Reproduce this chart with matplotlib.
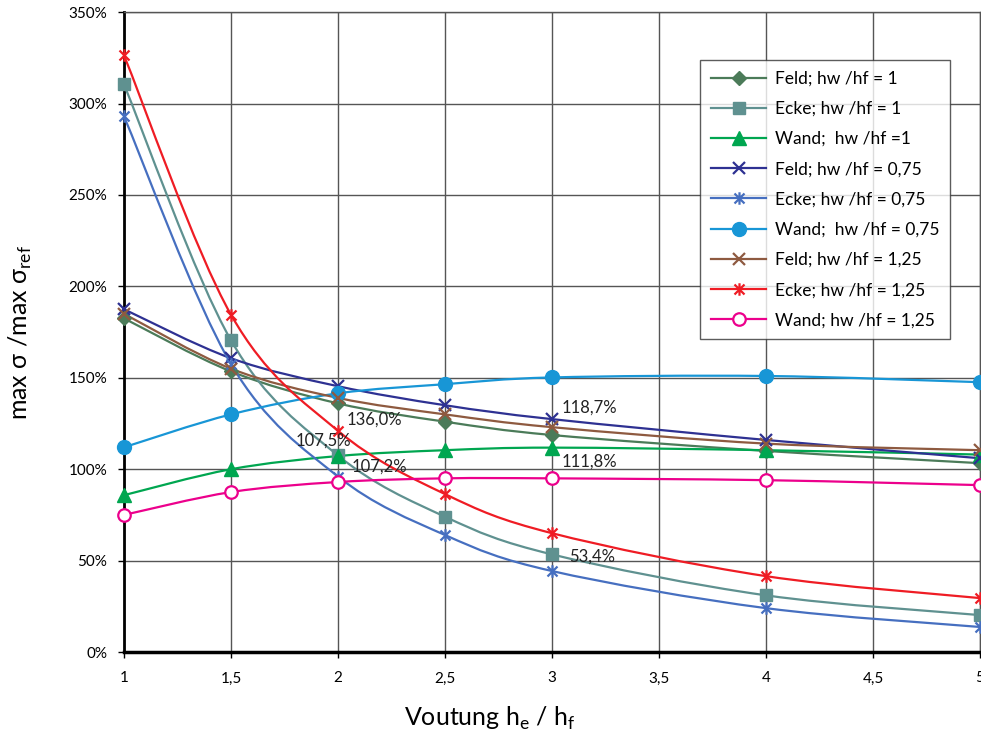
import matplotlib
matplotlib.use("Agg")
import matplotlib.pyplot as plt
from matplotlib.path import Path
from matplotlib.patches import PathPatch
from matplotlib.lines import Line2D
from matplotlib.ticker import FuncFormatter, MultipleLocator

plt.rcParams['font.family'] = ['Lato', 'DejaVu Sans']

# Voutung he/hf
x = [1, 1.5, 2, 2.5, 3, 4, 5]

# max sigma / max sigma_ref in %
feld_100 = [182.5, 153.5, 136.0, 126.0, 118.7, 110.0, 103.3]
ecke_100 = [310.5, 170.5, 107.5, 74.0, 53.4, 31.0, 20.2]
wand_100 = [85.8, 100.0, 107.2, 110.4, 111.8, 110.4, 108.0]
feld_075 = [187.5, 160.7, 145.4, 135.0, 127.4, 116.0, 106.0]
ecke_075 = [293.0, 157.5, 96.0, 64.0, 44.3, 24.0, 13.7]
wand_075 = [112.0, 130.0, 141.5, 146.5, 150.2, 151.0, 147.6]
feld_125 = [185.0, 155.0, 139.0, 130.0, 123.0, 114.0, 110.4]
ecke_125 = [326.4, 184.5, 121.0, 86.4, 65.0, 41.5, 29.5]
wand_125 = [75.0, 87.5, 93.0, 95.0, 95.0, 94.0, 91.3]

labels = ["Feld; hw /hf = 1", "Ecke; hw /hf = 1", "Wand;  hw /hf =1",
          "Feld; hw /hf = 0,75", "Ecke; hw /hf = 0,75", "Wand;  hw /hf = 0,75",
          "Feld; hw /hf = 1,25", "Ecke; hw /hf = 1,25", "Wand; hw /hf = 1,25"]

# excel-like star: vertical bar plus a cross
star = Path([(-1, -1), (1, 1), (-1, 1), (1, -1), (0, -1.25), (0, 1.25)],
            [Path.MOVETO, Path.LINETO, Path.MOVETO, Path.LINETO, Path.MOVETO, Path.LINETO])

styles = [
    (feld_100, '#4b7b59', dict(marker='D', ms=7)),
    (ecke_100, '#5f9190', dict(marker='s', ms=9)),
    (wand_100, '#00a650', dict(marker='^', ms=10)),
    (feld_075, '#2e3192', dict(marker='x', ms=8, mew=1.6)),
    (ecke_075, '#466fc0', dict(marker=star, ms=9, mew=1.6)),
    (wand_075, '#1896d6', dict(marker='o', ms=10)),
    (feld_125, '#8e5a40', dict(marker='x', ms=8, mew=1.6)),
    (ecke_125, '#ef1c24', dict(marker=star, ms=9, mew=1.6)),
    (wand_125, '#ec008c', dict(marker='o', ms=9, mfc='white', mew=1.6)),
]


def smooth_path(xs, ys):
    # bezier segments like the smoothed lines of a spreadsheet chart
    pts = list(zip(xs, ys))
    verts = [pts[0]]
    codes = [Path.MOVETO]
    n = len(pts)
    for i in range(n - 1):
        p0 = pts[max(i - 1, 0)]
        p1 = pts[i]
        p2 = pts[i + 1]
        p3 = pts[min(i + 2, n - 1)]
        c1 = (p1[0] + (p2[0] - p0[0]) / 6, p1[1] + (p2[1] - p0[1]) / 6)
        c2 = (p2[0] - (p3[0] - p1[0]) / 6, p2[1] - (p3[1] - p1[1]) / 6)
        verts += [c1, c2, p2]
        codes += [Path.CURVE4] * 3
    return Path(verts, codes)


fig = plt.figure(figsize=(9.81, 7.38), dpi=100)
ax = fig.add_axes([0.1264, 0.1165, 0.8726, 0.867])

handles = []
for (ys, col, mk), lab in zip(styles, labels):
    ax.add_patch(PathPatch(smooth_path(x, ys), fc='none', ec=col, lw=1.6,
                           transform=ax.transData, clip_on=False, zorder=3))
    ax.plot(x, ys, ls='none', color=col, clip_on=False, zorder=4, **mk)
    handles.append(Line2D([], [], color=col, lw=1.6, **mk))

ax.set_xlim(1, 5)
ax.set_ylim(0, 350)
ax.xaxis.set_major_locator(MultipleLocator(0.5))
ax.yaxis.set_major_locator(MultipleLocator(50))
ax.xaxis.set_major_formatter(FuncFormatter(lambda v, p: f"{v:g}".replace('.', ',')))
ax.yaxis.set_major_formatter(FuncFormatter(lambda v, p: f"{v:.0f}%"))
ax.tick_params(axis='x', direction='out', length=4, width=1, pad=10, labelsize=11)
ax.tick_params(axis='y', direction='out', length=4, width=1, pad=8, labelsize=11)
ax.grid(True, color='#555555', lw=1, zorder=0)
ax.set_axisbelow(True)
for s in ['top', 'right']:
    ax.spines[s].set_color('#555555')
    ax.spines[s].set_linewidth(1)
ax.spines['left'].set_linewidth(2)
ax.spines['bottom'].set_linewidth(2.5)

# axis titles placed like in the original, x title not centred on the axes
fig.text(490 / 981, 1 - 718 / 738, r'Voutung h$_\mathregular{e}$ / h$_\mathregular{f}$',
         fontsize=18, ha='center', va='center')
fig.text(20 / 981, 1 - 332 / 738, r'max σ /max σ$_\mathregular{ref}$',
         fontsize=18, ha='center', va='center', rotation=90)

# value labels
notes = [
    (2, feld_100[2], "136,0%", 9, -16, 'left', 'center'),
    (2, ecke_100[2], "107,5%", 13, 15, 'right', 'center'),
    (2, wand_100[2], "107,2%", 14, -11, 'left', 'center'),
    (3, feld_100[4], "118,7%", 10, 27, 'left', 'center'),
    (3, wand_100[4], "111,8%", 10, -14, 'left', 'center'),
    (3, ecke_100[4], "53,4%", 17, -2, 'left', 'center'),
]
for xv, yv, txt, dx, dy, ha, va in notes:
    ax.annotate(txt, (xv, yv), xytext=(dx, dy), textcoords='offset pixels',
                ha=ha, va=va, fontsize=12, color='#222222', zorder=6)

leg = ax.legend(handles=handles, labels=labels, loc='upper right',
                bbox_to_anchor=(0.965, 0.925), borderaxespad=0, fontsize=12.5,
                frameon=True, fancybox=False, edgecolor='#333333', handlelength=3.2,
                labelspacing=0.82, borderpad=0.6, handletextpad=0.5)
leg.get_frame().set_linewidth(1)
leg.set_zorder(10)

fig.savefig("out.png", dpi=100)
